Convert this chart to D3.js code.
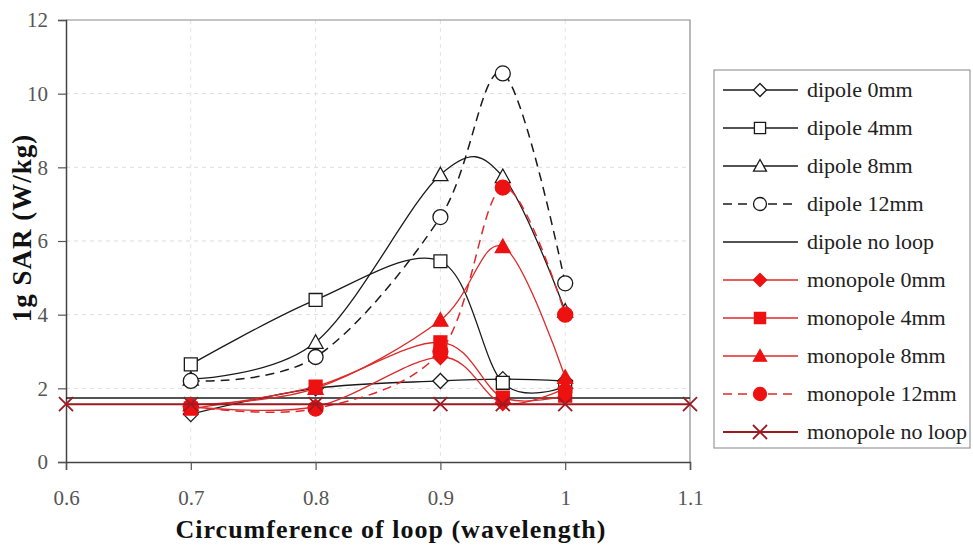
<!DOCTYPE html>
<html>
<head>
<meta charset="utf-8">
<script src="https://cdn.jsdelivr.net/npm/d3@7"></script>
<style>
  body { margin: 0; background: #fff; }
  text { font-family: "Liberation Serif", "Times New Roman", serif; }
</style>
</head>
<body>
<svg id="chart" width="973" height="548"></svg>
<script>
// circumference of loop (wavelength)
var loopX = [0.7, 0.8, 0.9, 0.95, 1.0];
var noLoopX = [0.6, 0.7, 0.8, 0.9, 0.95, 1.0, 1.1];

// 1g SAR (W/kg)
var dipole0 = [1.3, 2.0, 2.2, 2.25, 2.2];
var dipole4 = [2.65, 4.4, 5.45, 2.15, 2.05];
var dipole8 = [2.25, 3.25, 7.8, 7.75, 4.1];
var dipole12 = [2.2, 2.85, 6.65, 10.55, 4.85];
var dipoleNoLoop = [1.74, 1.74, 1.74, 1.74, 1.74, 1.74, 1.74];
var monopole0 = [1.5, 1.5, 2.85, 1.6, 2.0];
var monopole4 = [1.45, 2.05, 3.25, 1.75, 1.8];
var monopole8 = [1.55, 2.0, 3.85, 5.85, 2.3];
var monopole12 = [1.5, 1.45, 3.0, 7.45, 4.0];
var monopoleNoLoop = [1.57, 1.57, 1.57, 1.57, 1.57, 1.57, 1.57];

var seriesNames = ["dipole 0mm", "dipole 4mm", "dipole 8mm", "dipole 12mm", "dipole no loop",
  "monopole 0mm", "monopole 4mm", "monopole 8mm", "monopole 12mm", "monopole no loop"];

var xTicks = [0.6, 0.7, 0.8, 0.9, 1, 1.1];
var yTicks = [0, 2, 4, 6, 8, 10, 12];

var black = "#1a1a1a", red = "#ee1111", redLine = "#dd2a2a", darkRed = "#9e1a22";

var series = [
  { name: seriesNames[0], xs: loopX, ys: dipole0, line: black, marker: "diamond", fill: "#fff", stroke: black, dash: null, w: 1.3 },
  { name: seriesNames[1], xs: loopX, ys: dipole4, line: black, marker: "square", fill: "#fff", stroke: black, dash: null, w: 1.3 },
  { name: seriesNames[2], xs: loopX, ys: dipole8, line: black, marker: "triangle", fill: "#fff", stroke: black, dash: null, w: 1.3 },
  { name: seriesNames[3], xs: loopX, ys: dipole12, line: black, marker: "circle", fill: "#fff", stroke: black, dash: "9,6", w: 1.5 },
  { name: seriesNames[4], xs: noLoopX, ys: dipoleNoLoop, line: black, marker: null, dash: null, w: 1.5 },
  { name: seriesNames[5], xs: loopX, ys: monopole0, line: redLine, marker: "diamond", fill: red, stroke: red, dash: null, w: 1.3 },
  { name: seriesNames[6], xs: loopX, ys: monopole4, line: redLine, marker: "square", fill: red, stroke: red, dash: null, w: 1.3 },
  { name: seriesNames[7], xs: loopX, ys: monopole8, line: redLine, marker: "triangle", fill: red, stroke: red, dash: null, w: 1.3 },
  { name: seriesNames[8], xs: loopX, ys: monopole12, line: redLine, marker: "circle", fill: red, stroke: red, dash: "9,6", w: 1.5 },
  { name: seriesNames[9], xs: noLoopX, ys: monopoleNoLoop, line: darkRed, marker: "x", fill: "none", stroke: darkRed, dash: null, w: 2 }
];

var svg = d3.select("#chart");

var plotLeft = 66, plotRight = 690, plotTop = 20, plotBottom = 462;

var x = d3.scaleLinear().domain([0.6, 1.1]).range([plotLeft, plotRight]);
var y = d3.scaleLinear().domain([0, 12]).range([plotBottom, plotTop]);

function markerPath(type, s) {
  if (type == "diamond") return "M0," + (-s) + "L" + s + ",0L0," + s + "L" + (-s) + ",0Z";
  if (type == "square") { var h = s * 0.86; return "M" + (-h) + "," + (-h) + "H" + h + "V" + h + "H" + (-h) + "Z"; }
  if (type == "triangle") return "M0," + (-s) + "L" + s + "," + (s * 0.8) + "L" + (-s) + "," + (s * 0.8) + "Z";
  if (type == "circle") return "M" + s + ",0A" + s + "," + s + " 0 1,1 " + (-s) + ",0A" + s + "," + s + " 0 1,1 " + s + ",0Z";
  if (type == "x") return "M" + (-s) + "," + (-s) + "L" + s + "," + s + "M" + (-s) + "," + s + "L" + s + "," + (-s);
  return "";
}

// grid
svg.append("g").selectAll("line")
  .data(yTicks.filter(function(d) { return d > 0 && d < 12; }))
  .enter().append("line")
  .attr("x1", plotLeft).attr("x2", plotRight)
  .attr("y1", function(d) { return y(d); }).attr("y2", function(d) { return y(d); })
  .style("stroke", "#dcdcdc").style("stroke-dasharray", "4,4").style("stroke-width", 1);

svg.append("g").selectAll("line")
  .data(xTicks.filter(function(d) { return d > 0.6 && d < 1.1; }))
  .enter().append("line")
  .attr("x1", function(d) { return x(d); }).attr("x2", function(d) { return x(d); })
  .attr("y1", plotTop).attr("y2", plotBottom)
  .style("stroke", "#e4e4e4").style("stroke-dasharray", "4,4").style("stroke-width", 1);

// frame
svg.append("path")
  .attr("d", "M" + plotLeft + "," + plotTop + "H" + plotRight + "V" + plotBottom)
  .style("fill", "none").style("stroke", "#8a8a8a").style("stroke-width", 1.2);

// axes
var xAxis = svg.append("g")
  .attr("transform", "translate(0," + plotBottom + ")")
  .call(d3.axisBottom(x).tickValues(xTicks).tickSize(8).tickPadding(20)
    .tickFormat(function(d) { return d3.format("")(+d.toFixed(1)); }));
var yAxis = svg.append("g")
  .attr("transform", "translate(" + plotLeft + ",0)")
  .call(d3.axisLeft(y).tickValues(yTicks).tickSize(8).tickPadding(10));

[xAxis, yAxis].forEach(function(a) {
  a.select(".domain").style("stroke", "#444").style("stroke-width", 1.5);
  a.selectAll(".tick line").style("stroke", "#555").style("stroke-width", 1.2);
  a.selectAll(".tick text").style("font-family", "'Liberation Serif', serif")
    .style("font-size", "21px").style("fill", "#555");
});

// series lines and markers
var line = d3.line()
  .x(function(d) { return x(d[0]); })
  .y(function(d) { return y(d[1]); })
  .curve(d3.curveCardinal.tension(0));

series.forEach(function(s) {
  var pts = s.xs.map(function(v, i) { return [v, s.ys[i]]; });
  var g = svg.append("g").attr("class", "series");
  g.append("path")
    .datum(pts)
    .attr("d", line)
    .style("fill", "none")
    .style("stroke", s.line)
    .style("stroke-width", s.w)
    .style("stroke-dasharray", s.dash);
  if (s.marker) {
    g.selectAll(".pt")
      .data(pts)
      .enter().append("path")
      .attr("class", "pt")
      .attr("transform", function(d) { return "translate(" + x(d[0]) + "," + y(d[1]) + ")"; })
      .attr("d", markerPath(s.marker, s.marker == "x" ? 7 : 7.5))
      .style("fill", s.fill)
      .style("stroke", s.stroke)
      .style("stroke-width", s.marker == "x" ? 1.8 : 1.3);
  }
});

// axis titles
svg.append("text")
  .attr("x", 391).attr("y", 538)
  .attr("text-anchor", "middle")
  .style("font-size", "26px").style("font-weight", "bold").style("letter-spacing", "1px")
  .style("fill", "#111")
  .text("Circumference of loop (wavelength)");

svg.append("text")
  .attr("transform", "translate(31,228) rotate(-90)")
  .attr("text-anchor", "middle")
  .style("font-size", "27px").style("font-weight", "bold").style("letter-spacing", "1px")
  .style("fill", "#111")
  .text("1g SAR (W/kg)");

// legend
var legend = svg.append("g");
legend.append("rect")
  .attr("x", 714).attr("y", 70).attr("width", 256).attr("height", 378)
  .style("fill", "#fff").style("stroke", "#999").style("stroke-width", 1.2);

var item = legend.selectAll(".item")
  .data(series)
  .enter().append("g")
  .attr("class", "item")
  .attr("transform", function(d, i) { return "translate(0," + (90 + i * 38) + ")"; });

item.append("line")
  .attr("x1", 723).attr("x2", 798)
  .style("stroke", function(d) { return d.line; })
  .style("stroke-width", function(d) { return d.w; })
  .style("stroke-dasharray", function(d) { return d.dash; });

item.filter(function(d) { return d.marker; })
  .append("path")
  .attr("transform", "translate(760,0)")
  .attr("d", function(d) { return markerPath(d.marker, d.marker == "x" ? 7 : 6.5); })
  .style("fill", function(d) { return d.fill; })
  .style("stroke", function(d) { return d.stroke; })
  .style("stroke-width", function(d) { return d.marker == "x" ? 1.8 : 1.3; });

item.append("text")
  .attr("x", 807).attr("dy", "0.33em")
  .style("font-size", "22px").style("fill", "#222")
  .text(function(d) { return d.name; });
</script>
</body>
</html>
